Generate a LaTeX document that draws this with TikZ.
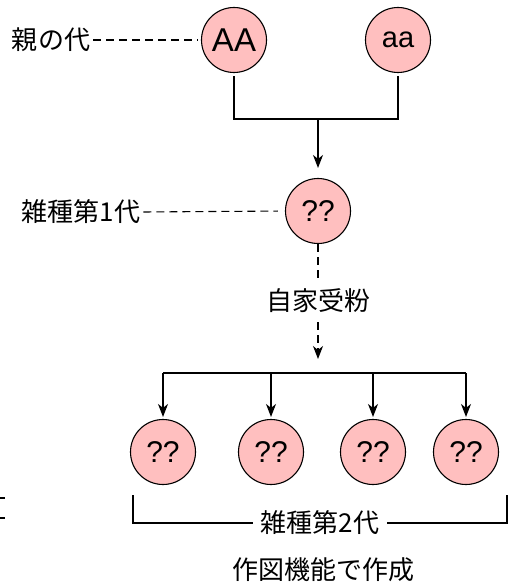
\documentclass[tikz,border=0pt]{standalone}
\usepackage{fontspec}
\setmainfont{Liberation Sans}
\newfontfamily\jp{Noto Sans CJK JP}
\usetikzlibrary{arrows.meta}
\definecolor{pinkfill}{HTML}{FFBFBF}
\tikzset{
  ball/.style={circle,draw=black,line width=1.1pt,fill=pinkfill,minimum size=65pt,inner sep=0pt,font=\fontsize{30}{30}\selectfont},
  lbl/.style={font=\jp\fontsize{26}{26}\selectfont,inner sep=2pt},
  dsh/.style={dash pattern=on 8pt off 5pt,line width=1.1pt},
  conn/.style={line width=1.2pt},
  arr/.style={-{Stealth[length=13pt,width=10pt,inset=4pt]}},
}
\begin{document}
\begin{tikzpicture}[x=1pt,y=-1pt]
\useasboundingbox[fill=white] (0,0) rectangle (514,585);
% nodes
\node[ball,font=\fontsize{33}{33}\selectfont] (AA) at (234,40) {AA};
\node[ball,font=\fontsize{29}{29}\selectfont] (aa) at (398,40) {aa};
\node[ball] (f1) at (318,211) {??};
\node[ball] (c1) at (163,452) {??};
\node[ball] (c2) at (271,452) {??};
\node[ball] (c3) at (373,452) {??};
\node[ball] (c4) at (466,452) {??};
\node[lbl] (lp) at (51,40) {親の代};
\node[lbl] (l1) at (81,212) {雑種第1代};
\node[lbl] (cap) at (323,570) {作図機能で作成};
\coordinate (m) at (318,119);
\coordinate (h) at (318,373);
\coordinate (bl) at (133,495);
\coordinate (br) at (507,495);
\coordinate (bly) at (133,523);
\coordinate (bry) at (507,523);
% dashed leaders
\draw[dsh,shorten <=1pt,shorten >=3pt] (lp.east) -- (AA.west);
\draw[dsh,shorten <=1pt,shorten >=7pt] (l1.east) -- (f1.west);
% parents join
\draw[conn,shorten <=3pt,shorten >=3pt] (AA.south) -- (AA.south |- m) -- (aa.south |- m) -- (aa.south);
\draw[conn,arr,shorten >=10pt] (m) -- (f1.north);
% selfing
\draw[dsh,arr,shorten >=14pt] (f1.south) -- node[lbl,fill=white,pos=0.44,inner ysep=6pt] {自家受粉} (h);
% offspring
\draw[conn] (c1 |- h) -- (c4 |- h);
\foreach \c in {c1,c2,c3,c4}{
  \draw[conn,arr,shorten >=2pt] (\c |- h) -- (\c.north);
}
% bracket
\draw[conn] (bl) -- (bly) -- node[lbl,fill=white,inner xsep=8pt] {雑種第2代} (bry) -- (br);
% stray fragment at left edge
\draw[line width=1.8pt] (0,498) -- (5,498);
\draw[line width=1.8pt] (0,518) -- (5,518);
\end{tikzpicture}
\end{document}
